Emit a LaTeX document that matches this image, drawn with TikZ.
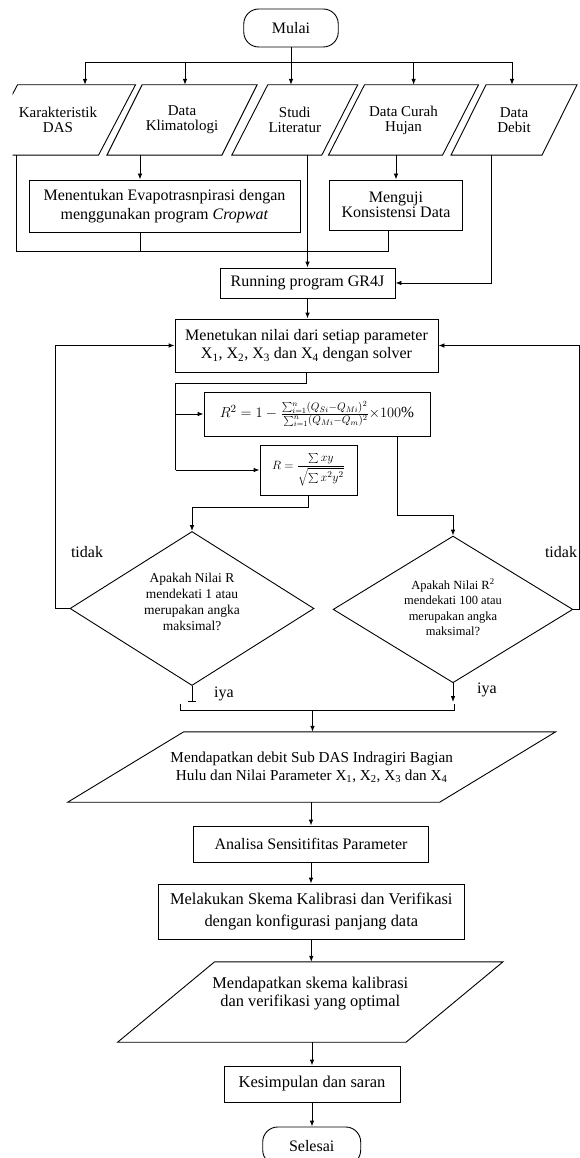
\documentclass[tikz,border=0pt]{standalone}
\usepackage{fontspec}
\setmainfont{Liberation Serif}
\usetikzlibrary{arrows.meta,shapes.geometric,calc}
\newcommand{\paraline}[3]{%
  \draw[ln] ([xshift={-#2pt+#3pt}]#1.north) -- ([xshift={#2pt+#3pt}]#1.north)
    -- ([xshift={#2pt-#3pt}]#1.south) -- ([xshift={-#2pt-#3pt}]#1.south) -- cycle;}
\tikzset{
  ln/.style={line width=0.9pt},
  arr/.style={ln,-{Latex[length=6pt,width=4.6pt]}},
  box/.style={draw,ln,rectangle,inner sep=0pt,align=center},
  term/.style={draw,ln,rectangle,rounded corners=15pt,inner sep=0pt,align=center},
  paranode/.style={rectangle,inner sep=0pt,align=center},
  dia/.style={draw,ln,diamond,inner sep=0pt,shape aspect=1.58},
  lbl/.style={inner sep=0pt},
  f16/.style={font=\fontsize{16}{18.5}\selectfont},
}
\begin{document}
\begin{tikzpicture}[x=1pt,y=-1pt,every node/.style={f16}]
\useasboundingbox (0,0) rectangle (580,1158);

% terminals
\node[term, minimum width=94.5pt, minimum height=38pt] (mulai) at (291,28) {Mulai};

% input parallelograms
\node[paranode, minimum height=70pt, font=\fontsize{15}{15}\selectfont] (kar) at (58,120) {Karakteristik\\DAS};
\node[paranode, minimum height=70pt, font=\fontsize{15}{15}\selectfont] (klim) at (182,120) {Data\\Klimatologi};
\node[paranode, minimum height=70pt, font=\fontsize{15}{15}\selectfont] (studi) at (294.75,120) {Studi\\Literatur};
\node[paranode, minimum height=70pt, font=\fontsize{15}{15}\selectfont] (curah) at (403.5,120) {Data Curah\\Hujan};
\node[paranode, minimum height=70pt, font=\fontsize{15}{15}\selectfont] (debit) at (514,120) {Data\\Debit};
\begin{scope}
  \clip (12.5,0) rectangle (580,1158);
  \paraline{kar}{59}{18.5}
\end{scope}
\paraline{klim}{57.5}{17.6}
\paraline{studi}{45}{18}
\paraline{curah}{57}{18}
\paraline{debit}{45.5}{17.5}

% process boxes
\node[box, minimum width=271pt, minimum height=52pt] (evapo) at (164.5,206) {Menentukan Evapotrasnpirasi dengan\\menggunakan program \textit{Cropwat}};
\node[box, minimum width=132.5pt, minimum height=50pt, font=\fontsize{16}{15}\selectfont] (menguji) at (396,205) {Menguji\\Konsistensi Data};
\node[box, minimum width=175pt, minimum height=30pt] (running) at (307.5,283) {Running program GR4J};
\node[box, minimum width=263pt, minimum height=53pt] (menetukan) at (306.5,345.5) {Menetukan nilai dari setiap parameter\\X\textsubscript{1}, X\textsubscript{2}, X\textsubscript{3} dan X\textsubscript{4} dengan solver};
\node[box, minimum width=226pt, minimum height=44pt, font=\fontsize{15.5}{18}\selectfont] (r2) at (317,414) {$R^2 = 1 - \frac{\sum_{i=1}^{n}(Q_{Si}-Q_{Mi})^2\rule[-3pt]{0pt}{0pt}}{\rule{0pt}{9pt}\sum_{i=1}^{n}(Q_{Mi}-Q_{m})^2}{\times}100\%$};
\node[box, minimum width=97pt, minimum height=50pt, font=\fontsize{13}{15}\selectfont] (r) at (308.5,470) {$R=\displaystyle\frac{\sum xy}{\sqrt{\sum x^2y^2}}$};

% decisions
\node[dia, minimum width=244pt, minimum height=154pt,
  label={[lbl,align=center,font=\fontsize{13.5}{16}\selectfont,yshift=7pt]center:Apakah Nilai R\\mendekati 1 atau\\merupakan angka\\maksimal?}] (d1) at (192,608.5) {};
\node[dia, minimum width=239.7pt, minimum height=146.7pt,
  label={[lbl,align=center,font=\fontsize{12.5}{15.5}\selectfont,yshift=2pt]center:Apakah Nilai R\textsuperscript{2}\\mendekati 100 atau\\merupakan angka\\maksimal?}] (d2) at (453,609.4) {};
\node[lbl] (t1) at (87,552) {tidak};
\node[lbl] (t2) at (561,552) {tidak};
\node[lbl] (i1) at (224,694) {iya};
\node[lbl] (i2) at (487,690) {iya};

% lower chain
\node[paranode, minimum height=70pt, font=\fontsize{15.2}{18}\selectfont] (out1) at (311.7,767) {Mendapatkan debit Sub DAS Indragiri Bagian\\Hulu dan Nilai Parameter X\textsubscript{1}, X\textsubscript{2}, X\textsubscript{3} dan X\textsubscript{4}};
\paraline{out1}{186}{58}
\node[box, minimum width=235.5pt, minimum height=36pt] (analisa) at (311,844) {Analisa Sensitifitas Parameter};
\node[box, minimum width=306.7pt, minimum height=55pt, font=\fontsize{16.4}{21.5}\selectfont] (melakukan) at (311.3,911.5) {Melakukan Skema Kalibrasi dan Verifikasi\\dengan konfigurasi panjang data};
\node[paranode, minimum height=80pt, font=\fontsize{16.4}{17.5}\selectfont] (out2) at (310.3,1002) {Mendapatkan skema kalibrasi\\dan verifikasi yang optimal\\[3pt]};
\paraline{out2}{144.2}{48.5}
\node[box, minimum width=176pt, minimum height=36pt, font=\fontsize{16.5}{18}\selectfont] (kesimp) at (312,1084) {Kesimpulan dan saran};
\node[term, minimum width=98pt, minimum height=38pt] (selesai) at (311.7,1146) {Selesai};

% connectors: top distribution
\coordinate (bL) at (85,62);
\coordinate (b2) at (185,62);
\coordinate (b4) at (413.6,62);
\coordinate (bR) at (512,62);
\draw[ln] (bL) -- (bR);
\draw[arr] (mulai.south) -- (mulai.south |- studi.north);
\draw[arr] (bL) -- (bL |- kar.north);
\draw[arr] (b2) -- (b2 |- klim.north);
\draw[arr] (b4) -- (b4 |- curah.north);
\draw[arr] (bR) -- (bR |- debit.north);

% to running
\coordinate (j1) at (16.7,251);
\coordinate (j2) at (388,251);
\coordinate (ev) at (140,251);
\draw[ln] (j1 |- kar.south) -- (j1) -- (j2) -- (j2 |- menguji.south);
\draw[arr] (ev |- klim.south) -- (ev |- evapo.north);
\draw[ln] (evapo.south -| ev) -- (ev);
\draw[arr] (menguji.north |- curah.south) -- (menguji.north);
\draw[arr] (running.north |- studi.south) -- (running.north);
\coordinate (dj) at (491,283);
\draw[arr] (dj |- debit.south) -- (dj) -- (running.east);
\draw[arr] (running.south) -- (running.south |- menetukan.north);

% to formulas
\coordinate (s1) at (175.7,383);
\draw[ln] (menetukan.south) -- (menetukan.south |- s1) -- (s1) -- (s1 |- r.west);
\draw[arr] (s1 |- r2.west) -- (r2.west);
\draw[arr] (s1 |- r.west) -- (r.west);
\coordinate (ry) at (0,507);
\draw[arr] (r.south) -- (r.south |- ry) -| (d1.north);
\coordinate (q) at (397,515);
\draw[arr] (q |- r2.south) -- (q) -| (d2.north);

% feedback loops
\coordinate (fl) at (55.5,0);
\coordinate (fr) at (579,0);
\draw[arr] (d1.west) -- (d1.west -| fl) |- (menetukan.west);
\draw[arr] (d2.east) -- (d2.east -| fr) |- (menetukan.east);

% merge
\coordinate (e1) at (191.7,702);
\coordinate (e2) at (453,702);
\coordinate (m1) at (180,710);
\coordinate (m2) at (454,710);
\coordinate (mm) at (312.5,710);
\draw[ln,-{Bar[width=8pt]}] (d1.south) -- (d1.south |- e1);
\draw[arr] (d2.south) -- (d2.south |- e2);
\draw[ln] ([yshift=6pt]m1) -- (m1) -- (m2) -- ([yshift=6pt]m2);
\draw[arr] (mm) -- (mm |- out1.north);

% lower chain
\draw[arr] (analisa.north |- out1.south) -- (analisa.north);
\draw[arr] (analisa.south) -- (analisa.south |- melakukan.north);
\draw[arr] (melakukan.south) -- (melakukan.south |- out2.north);
\draw[arr] (kesimp.north |- out2.south) -- (kesimp.north);
\draw[arr] (kesimp.south) -- (kesimp.south |- selesai.north);
\end{tikzpicture}
\end{document}
